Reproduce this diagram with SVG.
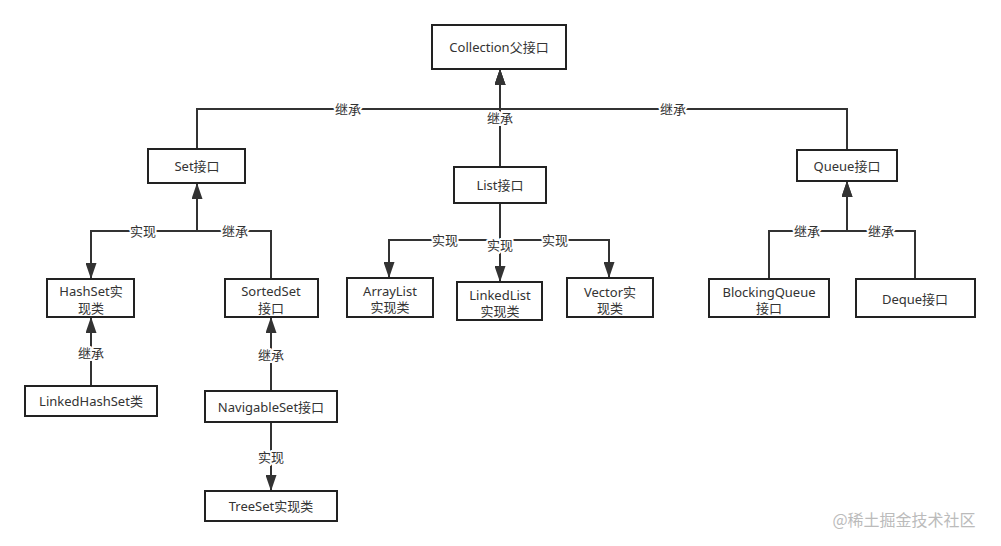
<svg xmlns="http://www.w3.org/2000/svg" width="1001" height="546" viewBox="0 0 1001 546">
<style>
.box{fill:#fff;stroke:#222;stroke-width:2}
.t{font-family:"Noto Sans","Noto Sans CJK SC",sans-serif;font-size:13px;fill:#333;text-anchor:middle;dominant-baseline:central}
.e{fill:none;stroke:#333;stroke-width:2}
.lbl{font-family:"Noto Sans","Noto Sans CJK SC",sans-serif;font-size:13px;fill:#333;text-anchor:middle;dominant-baseline:central;stroke:#fff;stroke-width:4px;paint-order:stroke;stroke-linejoin:round}
</style>
<defs>
<marker id="ar" markerUnits="userSpaceOnUse" markerWidth="16" markerHeight="11" viewBox="0 0 16 11" refX="15" refY="5.5" orient="auto">
<path d="M0,0 L16,5.5 L0,11 Z" fill="#333"/>
</marker>
</defs>
<rect width="1001" height="546" fill="#fff"/>
<g id="connectors">
<path class="e" d="M197,149 V109 H500 V70" marker-end="url(#ar)"/>
<path class="e" d="M500,167 V70" marker-end="url(#ar)"/>
<path class="e" d="M847,150 V109 H500 V70" marker-end="url(#ar)"/>
<path class="e" d="M197,183 V231 H91 V278" marker-end="url(#ar)"/>
<path class="e" d="M271,279 V231 H197 V184" marker-end="url(#ar)"/>
<path class="e" d="M91,386 V318" marker-end="url(#ar)"/>
<path class="e" d="M271,391 V318" marker-end="url(#ar)"/>
<path class="e" d="M271,422 V490" marker-end="url(#ar)"/>
<path class="e" d="M500,203 V240 H389 V277" marker-end="url(#ar)"/>
<path class="e" d="M500,203 V281" marker-end="url(#ar)"/>
<path class="e" d="M500,203 V240 H609 V277" marker-end="url(#ar)"/>
<path class="e" d="M769,279 V231 H847 V182" marker-end="url(#ar)"/>
<path class="e" d="M915,279 V231 H847 V182" marker-end="url(#ar)"/>
<text class="lbl" x="348" y="109">继承</text>
<text class="lbl" x="500" y="118">继承</text>
<text class="lbl" x="673" y="109">继承</text>
<text class="lbl" x="143" y="231">实现</text>
<text class="lbl" x="235" y="231">继承</text>
<text class="lbl" x="91" y="353">继承</text>
<text class="lbl" x="271" y="355">继承</text>
<text class="lbl" x="271" y="457">实现</text>
<text class="lbl" x="445" y="240">实现</text>
<text class="lbl" x="500" y="245">实现</text>
<text class="lbl" x="555" y="240">实现</text>
<text class="lbl" x="807" y="231">继承</text>
<text class="lbl" x="881" y="231">继承</text>
</g>
<g id="collection"><rect class="box" x="432" y="25" width="134" height="44"/><text class="t" x="499" y="47">Collection父接口</text></g>
<g id="set"><rect class="box" x="148" y="149" width="97" height="34"/><text class="t" x="197" y="166">Set接口</text></g>
<g id="list"><rect class="box" x="454" y="167" width="92" height="36"/><text class="t" x="500" y="185">List接口</text></g>
<g id="queue"><rect class="box" x="797" y="150" width="100" height="31"/><text class="t" x="847" y="166">Queue接口</text></g>
<g id="hashset"><rect class="box" x="47" y="279" width="87" height="38"/><text class="t" x="91" y="291">HashSet实</text><text class="t" x="91" y="308">现类</text></g>
<g id="sortedset"><rect class="box" x="225" y="279" width="93" height="38"/><text class="t" x="271" y="291">SortedSet</text><text class="t" x="271" y="308">接口</text></g>
<g id="linkedhashset"><rect class="box" x="25" y="386" width="132" height="30"/><text class="t" x="91" y="401">LinkedHashSet类</text></g>
<g id="navigableset"><rect class="box" x="205" y="391" width="132" height="31"/><text class="t" x="271" y="407">NavigableSet接口</text></g>
<g id="treeset"><rect class="box" x="205" y="491" width="132" height="30"/><text class="t" x="271" y="506">TreeSet实现类</text></g>
<g id="arraylist"><rect class="box" x="347" y="278" width="86" height="39"/><text class="t" x="390" y="291">ArrayList</text><text class="t" x="390" y="307">实现类</text></g>
<g id="linkedlist"><rect class="box" x="457" y="282" width="85" height="38"/><text class="t" x="500" y="295">LinkedList</text><text class="t" x="500" y="311">实现类</text></g>
<g id="vector"><rect class="box" x="567" y="278" width="86" height="39"/><text class="t" x="610" y="292">Vector实</text><text class="t" x="610" y="308">现类</text></g>
<g id="blockingqueue"><rect class="box" x="709" y="279" width="120" height="38"/><text class="t" x="769" y="292">BlockingQueue</text><text class="t" x="769" y="308">接口</text></g>
<g id="deque"><rect class="box" x="856" y="279" width="119" height="38"/><text class="t" x="915" y="299">Deque接口</text></g>
<text x="904" y="519" font-family="Noto Sans CJK SC, sans-serif" font-size="16" fill="#bbb" text-anchor="middle" dominant-baseline="central">@稀土掘金技术社区</text>
</svg>
